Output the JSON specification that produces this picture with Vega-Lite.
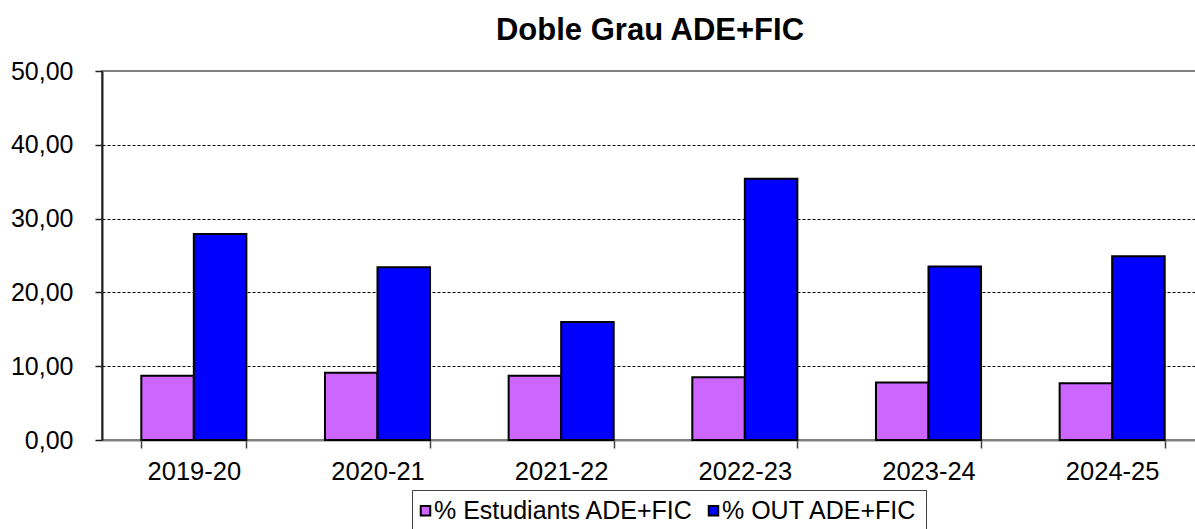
{
  "$schema": "https://vega.github.io/schema/vega-lite/v6.json",
  "autosize": {"type": "none"},
  "padding": {"left": 102, "top": 71, "right": -9, "bottom": 89},
  "width": 1102,
  "height": 369,
  "background": "white",
  "title": {
    "text": "Doble Grau ADE+FIC",
    "font": "Liberation Sans",
    "fontSize": 31,
    "fontWeight": "bold",
    "color": "black",
    "anchor": "middle",
    "baseline": "alphabetic",
    "offset": 28,
    "dx": -3,
    "dy": 40
  },
  "config": {
    "view": {"stroke": "#808080", "strokeWidth": 2},
    "font": "Liberation Sans"
  },
  "data": {
    "values": [
      {"curs": "2019-20", "serie": "% Estudiants ADE+FIC", "valor": 8.7},
      {"curs": "2019-20", "serie": "% OUT ADE+FIC", "valor": 27.9},
      {"curs": "2020-21", "serie": "% Estudiants ADE+FIC", "valor": 9.1},
      {"curs": "2020-21", "serie": "% OUT ADE+FIC", "valor": 23.4},
      {"curs": "2021-22", "serie": "% Estudiants ADE+FIC", "valor": 8.7},
      {"curs": "2021-22", "serie": "% OUT ADE+FIC", "valor": 16.0},
      {"curs": "2022-23", "serie": "% Estudiants ADE+FIC", "valor": 8.5},
      {"curs": "2022-23", "serie": "% OUT ADE+FIC", "valor": 35.4},
      {"curs": "2023-24", "serie": "% Estudiants ADE+FIC", "valor": 7.8},
      {"curs": "2023-24", "serie": "% OUT ADE+FIC", "valor": 23.5},
      {"curs": "2024-25", "serie": "% Estudiants ADE+FIC", "valor": 7.7},
      {"curs": "2024-25", "serie": "% OUT ADE+FIC", "valor": 24.9}
    ]
  },
  "mark": {"type": "bar", "stroke": "black", "strokeWidth": 2},
  "encoding": {
    "x": {
      "field": "curs",
      "type": "nominal",
      "sort": null,
      "scale": {"paddingInner": 0.428, "paddingOuter": 0.214},
      "axis": {
        "title": null,
        "labelAngle": 0,
        "labelFont": "Liberation Sans",
        "labelFontSize": 25.5,
        "labelColor": "black",
        "labelPadding": 11,
        "tickBand": "extent",
        "tickSize": 8,
        "tickColor": "#404040",
        "tickWidth": 1.5,
        "domainColor": "#808080",
        "domainWidth": 2
      }
    },
    "xOffset": {"field": "serie", "type": "nominal", "sort": ["% Estudiants ADE+FIC", "% OUT ADE+FIC"]},
    "y": {
      "field": "valor",
      "type": "quantitative",
      "scale": {"domain": [0, 50], "nice": false},
      "axis": {
        "title": null,
        "values": [0, 10, 20, 30, 40, 50],
        "labelExpr": "replace(format(datum.value, '.2f'), '.', ',')",
        "labelFont": "Liberation Sans",
        "labelFontSize": 25,
        "labelColor": "black",
        "labelPadding": 22,
        "tickSize": 7,
        "tickColor": "#202020",
        "tickWidth": 1.5,
        "domainColor": "#202020",
        "domainWidth": 2,
        "grid": true,
        "gridColor": "black",
        "gridDash": [3, 2],
        "gridWidth": 1,
        "gridOpacity": {"condition": {"test": "datum.value == 50 || datum.value == 0", "value": 0}, "value": 1}
      }
    },
    "color": {
      "field": "serie",
      "type": "nominal",
      "sort": ["% Estudiants ADE+FIC", "% OUT ADE+FIC"],
      "scale": {"domain": ["% Estudiants ADE+FIC", "% OUT ADE+FIC"], "range": ["#CC66FF", "#0000FF"]},
      "legend": {
        "title": null,
        "orient": "none",
        "legendX": 310,
        "legendY": 419,
        "direction": "horizontal",
        "symbolType": "square",
        "symbolSize": 90,
        "symbolStrokeColor": "black",
        "symbolStrokeWidth": 2,
        "symbolOpacity": 1,
        "symbolOffset": -7,
        "labelFont": "Liberation Sans",
        "labelFontSize": 25,
        "labelColor": "black",
        "labelOffset": -4,
        "columnPadding": 10,
        "strokeColor": "#404040",
        "padding": 8,
        "labelLimit": 400
      }
    }
  }
}
